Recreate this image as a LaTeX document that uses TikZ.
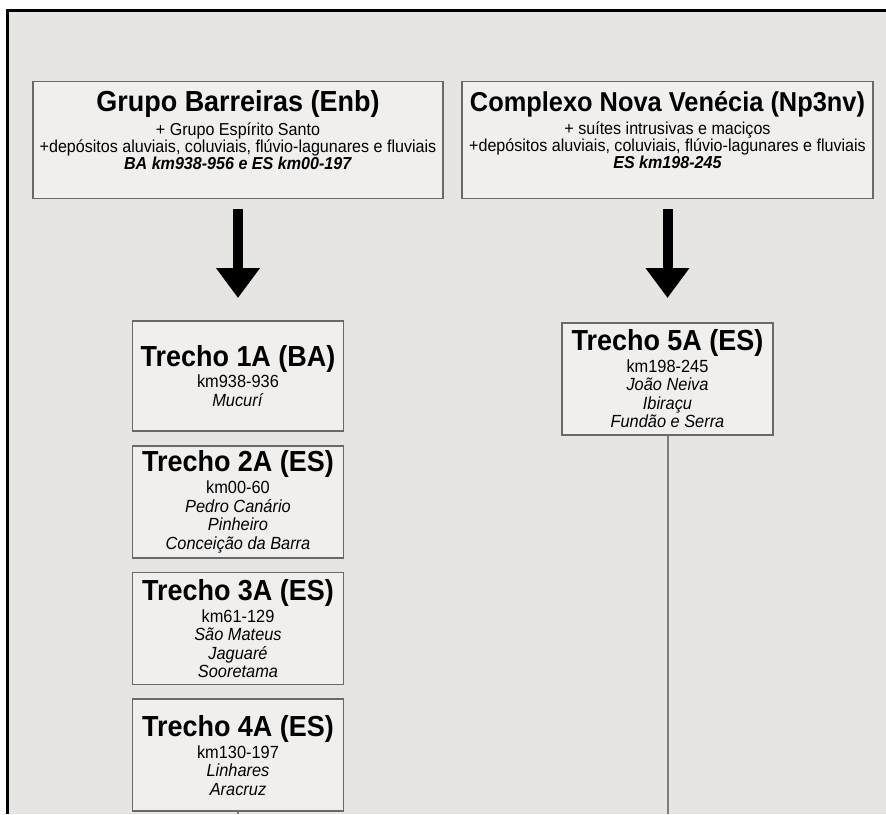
\documentclass[tikz,border=0pt]{standalone}
\usepackage{fontspec}
\setmainfont{Liberation Sans}[FakeStretch=0.93]
\usepackage{xcolor}
\usepackage{tikz}
\usetikzlibrary{arrows.meta, positioning}

\definecolor{paper}{RGB}{231,229,226}
\definecolor{boxline}{RGB}{105,105,105}
\definecolor{stemline}{RGB}{125,125,125}

\newcommand{\grouptitle}[1]{{\fontsize{29}{32}\selectfont\bfseries #1}}
\newcommand{\trechotitle}[1]{{\fontsize{29}{30}\selectfont\bfseries #1}}

\begin{document}
\begin{tikzpicture}[
    x=1pt, y=-1pt,
    groupbox/.style={draw=boxline, line width=1.8pt, fill=paper!60!white, minimum width=410pt, minimum height=117pt, inner xsep=2pt, align=center, font=\fontsize{17.3}{17}\selectfont},
    trechobox/.style={draw=boxline, line width=1.8pt, fill=paper!60!white, minimum width=211pt, minimum height=112pt, inner sep=2pt, align=center, font=\fontsize{17.6}{18.5}\selectfont},
    bigarrow/.style={-{Triangle[width=42pt, length=30pt]}, line width=10pt, black},
    stem/.style={draw=stemline, line width=2pt},
    node distance=13pt
]
    \useasboundingbox (0,0) rectangle (886,814);

    % Fundo e moldura
    \fill[paper] (7,10) rectangle (886,814);
    \draw[line width=3pt] (7,814) -- (7,10) -- (886,10);

    % Unidades geologicas
    \node[groupbox] (grupo) at (238,140) {\grouptitle{Grupo Barreiras (Enb)}\\[4pt]
        + Grupo Espírito Santo\\
        +depósitos aluviais, coluviais, flúvio-lagunares e fluviais\\
        \textbf{\textit{BA km938-956 e ES km00-197}}\rule[-20pt]{0pt}{0pt}};
    \node[groupbox, minimum width=411pt, minimum height=117pt] (complexo) at (667.5,140) {\grouptitle{\fontsize{27.3}{32}\selectfont Complexo Nova Venécia (Np3nv)}\\[4pt]
        + suítes intrusivas e maciços\\
        +depósitos aluviais, coluviais, flúvio-lagunares e fluviais\\
        \textbf{\textit{ES km198-245}}\rule[-20pt]{0pt}{0pt}};

    % Trechos
    \node[trechobox, minimum height=110pt, anchor=north] (trecho1A) at (238,320) {\trechotitle{Trecho 1A (BA)}\\[2pt]
        km938-936\\ \textit{Mucurí}};
    \node[trechobox, below=of trecho1A] (trecho2A) {\trechotitle{Trecho 2A (ES)}\\[2pt]
        km00-60\\ \textit{Pedro Canário}\\ \textit{Pinheiro}\\ \textit{Conceição da Barra}};
    \node[trechobox, below=of trecho2A] (trecho3A) {\trechotitle{Trecho 3A (ES)}\\[2pt]
        km61-129\\ \textit{São Mateus}\\ \textit{Jaguaré}\\ \textit{Sooretama}};
    \node[trechobox, below=of trecho3A] (trecho4A) {\trechotitle{Trecho 4A (ES)}\\[2pt]
        km130-197\\ \textit{Linhares}\\ \textit{Aracruz}};
    \node[trechobox, anchor=north] (trecho5A) at (667.5,322) {\trechotitle{Trecho 5A (ES)}\\[2pt]
        km198-245\\ \textit{João Neiva}\\ \textit{Ibiraçu}\\ \textit{Fundão e Serra}};

    % Setas
    \draw[bigarrow, shorten <=10pt, shorten >=22pt] (grupo) -- (trecho1A);
    \draw[bigarrow, shorten <=10pt, shorten >=24pt] (complexo) -- (trecho5A);

    % Linhas de continuacao
    \coordinate (fim4A) at (238,814);
    \coordinate (fim5A) at (667.5,814);
    \draw[stem] (trecho4A) -- (fim4A);
    \draw[stem] (trecho5A) -- (fim5A);

\end{tikzpicture}
\end{document}
